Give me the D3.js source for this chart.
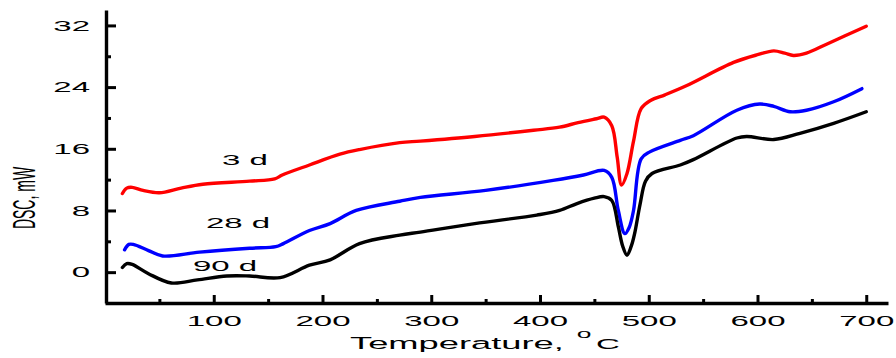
<!DOCTYPE html>
<html>
<head>
<meta charset="utf-8">
<script src="https://cdn.jsdelivr.net/npm/d3@7"></script>
<style>
  body { margin: 0; background: #fff; }
  text { font-family: "Liberation Sans", Arial, sans-serif; fill: #000; }
</style>
</head>
<body>
<div id="chart"></div>
<script>
const WIDTH = 896, HEIGHT = 358;
const SX = 2.2; // the picture is stretched sideways

// 3 d
const temp3d = [16, 20, 25, 35, 50, 70, 90, 133, 156, 163, 188, 216, 234, 271, 290, 340, 394, 418, 435, 452, 459, 466, 471, 475, 480, 486, 493, 502, 515, 535, 578, 600, 615, 625, 633, 645, 664, 700];
const dsc3d  = [10.2, 10.9, 11.0, 10.6, 10.3, 10.9, 11.4, 11.8, 12.1, 12.6, 13.9, 15.3, 15.9, 16.8, 17.0, 17.6, 18.4, 18.8, 19.4, 19.9, 20.1, 19.0, 14.9, 11.3, 12.8, 17.0, 21.2, 22.3, 23.0, 24.2, 27.2, 28.2, 28.7, 28.4, 28.1, 28.4, 29.6, 31.9];
// 28 d
const temp28d = [18, 22, 26, 40, 53, 87, 133, 157, 164, 188, 207, 231, 271, 290, 350, 412, 440, 459, 466, 472, 478, 482, 486, 493, 501, 529, 541, 581, 602, 615, 630, 645, 670, 696];
const dsc28d  = [2.9, 3.6, 3.6, 2.8, 2.1, 2.6, 3.1, 3.3, 3.7, 5.4, 6.3, 8.0, 9.2, 9.7, 10.6, 11.9, 12.6, 13.2, 12.3, 8.0, 5.0, 5.8, 8.0, 14.7, 15.6, 17.1, 17.7, 21.0, 21.8, 21.5, 20.8, 21.0, 22.1, 23.8];
// 90 d
const temp90d = [16, 20, 25, 40, 61, 85, 112, 133, 161, 188, 207, 234, 271, 290, 340, 397, 418, 434, 450, 459, 466, 472, 476, 480, 484, 487, 492, 497, 503, 529, 541, 581, 590, 615, 639, 670, 700];
const dsc90d  = [0.6, 1.1, 1.0, -0.2, -1.4, -1.0, -0.5, -0.5, -0.7, 0.9, 1.6, 3.7, 4.8, 5.2, 6.3, 7.4, 8.0, 8.9, 9.6, 9.8, 9.3, 5.9, 3.4, 2.2, 3.4, 5.0, 8.8, 11.8, 12.8, 13.9, 14.6, 17.4, 17.6, 17.2, 18.0, 19.3, 20.8];

const xMajor = [100, 200, 300, 400, 500, 600, 700];
const xMinor = [50, 150, 250, 350, 450, 550, 650];
const yMajor = [0, 8, 16, 24, 32];
const yMinor = [4, 12, 20, 28];

const series = [
  { name: "3 d",  temp: temp3d,  dsc: dsc3d,  color: "#ff0000", lx: 245, ly: 165 },
  { name: "28 d", temp: temp28d, dsc: dsc28d, color: "#0000ff", lx: 238, ly: 228 },
  { name: "90 d", temp: temp90d, dsc: dsc90d, color: "#000000", lx: 225, ly: 271 }
];

const svg = d3.select("#chart").append("svg")
  .attr("width", WIDTH).attr("height", HEIGHT);

const x = d3.scaleLinear().domain([0, 720]).range([105, 888]);
const y = d3.scaleLinear().domain([-4, 34]).range([303, 10]);

const line = d3.line()
  .x(d => x(d[0])).y(d => y(d[1]))
  .curve(d3.curveCatmullRom.alpha(0.5));

series.forEach(s => {
  svg.append("path")
    .datum(s.temp.map((t, i) => [t, s.dsc[i]]))
    .attr("fill", "none")
    .attr("stroke", s.color)
    .attr("stroke-width", 3.4)
    .attr("stroke-linejoin", "round")
    .attr("stroke-linecap", "round")
    .attr("d", line);
});

// axes
const gx = svg.append("g").attr("transform", `translate(0,${y(-4)})`)
  .call(d3.axisBottom(x).tickValues(xMajor).tickSize(-8).tickPadding(12).tickSizeOuter(0));
svg.append("g").attr("transform", `translate(0,${y(-4)})`)
  .call(d3.axisBottom(x).tickValues(xMinor).tickSize(-4).tickFormat("").tickSizeOuter(0))
  .select(".domain").remove();

const gy = svg.append("g").attr("transform", `translate(${x(0) + 1},0)`)
  .call(d3.axisLeft(y).tickValues(yMajor).tickSize(-10).tickPadding(8).tickSizeOuter(0));
svg.append("g").attr("transform", `translate(${x(0) + 1},0)`)
  .call(d3.axisLeft(y).tickValues(yMinor).tickSize(-5).tickFormat("").tickSizeOuter(0))
  .select(".domain").remove();

svg.selectAll(".domain").attr("stroke-width", 3.4);
svg.selectAll(".tick line").attr("stroke-width", 3);

gx.selectAll(".tick text")
  .attr("font-size", 15).attr("font-family", null)
  .attr("transform", `scale(${SX},1)`);
gy.selectAll(".tick text")
  .attr("font-size", 15).attr("font-family", null)
  .attr("x", -16 / SX)
  .attr("transform", `scale(${SX},1)`);

function label(txt, px, py, size, anchor) {
  return svg.append("text")
    .attr("transform", `translate(${px},${py}) scale(${SX},1)`)
    .attr("font-size", size)
    .attr("text-anchor", anchor)
    .text(txt);
}

series.forEach(s => label(s.name, s.lx, s.ly, 15, "middle"));

// axis titles
label("Temperature,", 350, 349, 16.5, "start");
label("o", 584, 338, 12, "middle");
label("C", 608, 349, 15, "middle");

svg.append("text")
  .attr("transform", `translate(35,198) scale(${SX},1) rotate(-90)`)
  .attr("font-size", 14)
  .attr("text-anchor", "middle")
  .text("DSC, mW");
</script>
</body>
</html>
